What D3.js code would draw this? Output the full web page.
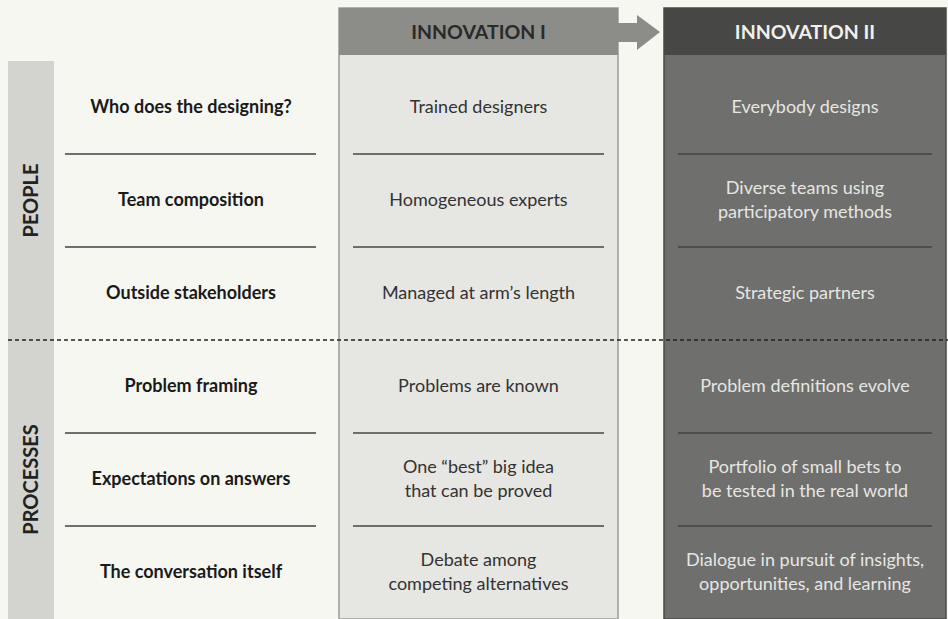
<!DOCTYPE html>
<html><head><meta charset="utf-8">
<script src="https://cdn.jsdelivr.net/npm/d3@7"></script>
<style>html,body{margin:0;padding:0;background:#f7f7f2;}svg{display:block;}</style>
</head><body>
<svg id="chart" width="948" height="619"></svg>
<script>
const categories = ["Who does the designing?","Team composition","Outside stakeholders","Problem framing","Expectations on answers","The conversation itself"];
const groups = ["PEOPLE","PROCESSES"];
const groupOf = [0,0,0,1,1,1];
const headers = ["INNOVATION I","INNOVATION II"];
const innovation1 = ["Trained designers","Homogeneous experts","Managed at arm\u2019s length","Problems are known","One \u201cbest\u201d big idea\nthat can be proved","Debate among\ncompeting alternatives"];
const innovation2 = ["Everybody designs","Diverse teams using\nparticipatory methods","Strategic partners","Problem definitions evolve","Portfolio of small bets to\nbe tested in the real world","Dialogue in pursuit of insights,\nopportunities, and learning"];

const svg = d3.select("#chart");
const font = "Lato, 'Open Sans', sans-serif";
const y = d3.scaleBand().domain(d3.range(categories.length)).range([61, 619]).padding(0);
const cols = [{x0:339,x1:618,fill:"#e6e6e2",stroke:"#9a9a96",head:"#8c8c88",headText:"#2a2a2a",text:"#333",line:"#6e6e6c",data:innovation1},
              {x0:664,x1:946,fill:"#6f6f6d",stroke:"#4a4a48",head:"#474745",headText:"#f0f0ec",text:"#e6e6e2",line:"#4e4e4c",data:innovation2}];

const gY = g => { const idx = d3.range(categories.length).filter(i=>groupOf[i]===g); return [y(idx[0]), y(idx[idx.length-1])+y.bandwidth()]; };
groups.forEach((g,i)=>{
  const [a,b]=gY(i);
  svg.append("rect").attr("x",8).attr("y",a).attr("width",46).attr("height",b-a).attr("fill","#d3d3cf");
  svg.append("text").attr("transform",`translate(38,${(a+b)/2}) rotate(-90)`).attr("text-anchor","middle")
    .attr("font-family",font).attr("font-weight",700).attr("font-size",20).attr("fill","#222").text(g);
});

cols.forEach((c,ci)=>{
  svg.append("rect").attr("x",c.x0).attr("y",8).attr("width",c.x1-c.x0).attr("height",611).attr("fill",c.fill).attr("stroke",c.stroke).attr("stroke-width",1.5);
  svg.append("rect").attr("x",c.x0).attr("y",8).attr("width",c.x1-c.x0).attr("height",47).attr("fill",c.head);
  svg.append("text").attr("x",(c.x0+c.x1)/2).attr("y",39).attr("text-anchor","middle").attr("font-family",font)
    .attr("font-weight",700).attr("font-size",19.5).attr("fill",c.headText).text(headers[ci]);
});

svg.append("path").attr("d","M618,23 L637,23 L637,15 L660,32 L637,50 L637,42 L618,42 Z").attr("fill","#8c8c88");

d3.range(1,categories.length).forEach(i=>{
  if (groupOf[i]!==groupOf[i-1]) return;
  const yy = y(i);
  svg.append("line").attr("x1",65).attr("x2",316).attr("y1",yy).attr("y2",yy).attr("stroke","#6e6e6c").attr("stroke-width",2);
  cols.forEach(c=>svg.append("line").attr("x1",c.x0+14).attr("x2",c.x1-14).attr("y1",yy).attr("y2",yy).attr("stroke",c.line).attr("stroke-width",2));
});
d3.range(1,categories.length).filter(i=>groupOf[i]!==groupOf[i-1]).forEach(i=>{
  svg.append("line").attr("x1",8).attr("x2",948).attr("y1",y(i)).attr("y2",y(i)).attr("stroke","#222").attr("stroke-width",1.5).attr("stroke-dasharray","4,3");
});

function multiText(x, cy, str, opts){
  const lines = str.split("\n"); const lh = 24;
  const t = svg.append("text").attr("text-anchor","middle").attr("font-family",font).attr("font-size",opts.size)
    .attr("font-weight",opts.weight).attr("fill",opts.fill);
  lines.forEach((l,k)=>t.append("tspan").attr("x",x).attr("y",cy + (k-(lines.length-1)/2)*lh + opts.size*0.35).text(l));
}
categories.forEach((c,i)=>{
  const cy = y(i)+y.bandwidth()/2 - 1;
  multiText(191, cy, c, {size:18, weight:700, fill:"#1a1a1a"});
  cols.forEach(col=>multiText((col.x0+col.x1)/2, cy, col.data[i], {size:18, weight:400, fill:col.text}));
});
</script>
</body></html>
